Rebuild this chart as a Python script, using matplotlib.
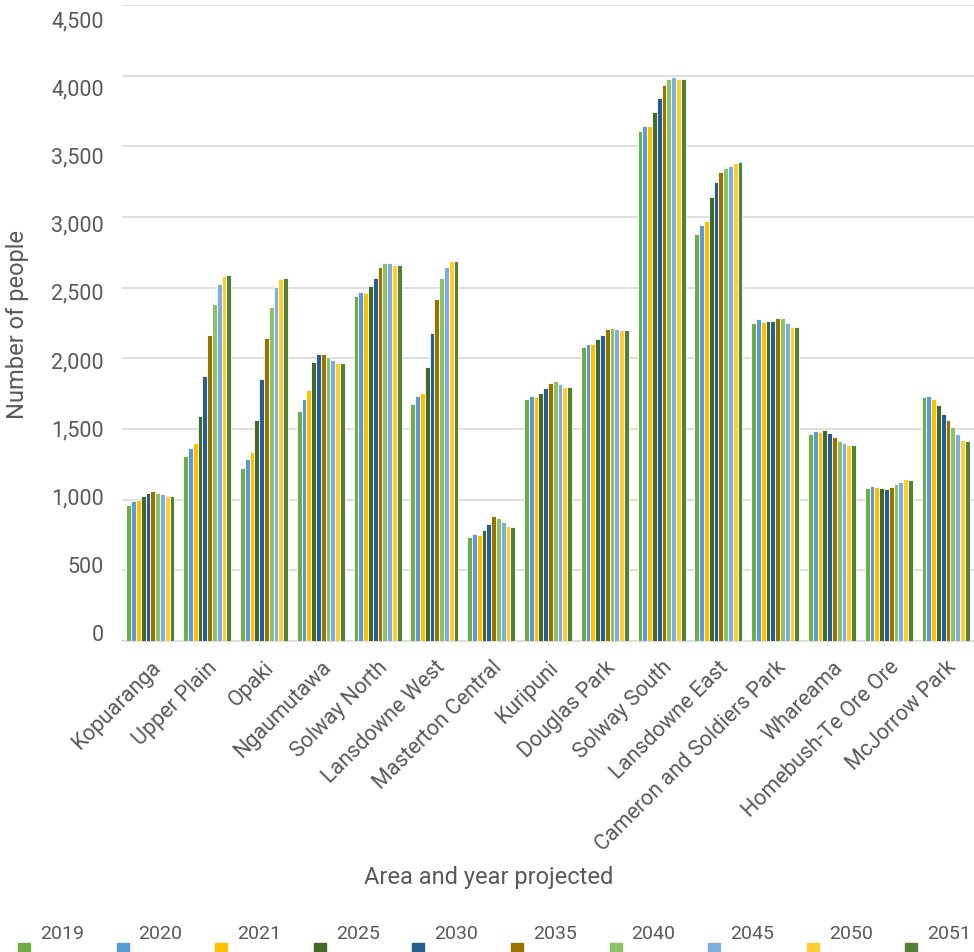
import matplotlib.pyplot as plt
import numpy as np
from matplotlib.patches import Rectangle
from matplotlib.transforms import ScaledTranslation

areas = [
    "Kopuaranga", "Upper Plain", "Opaki", "Ngaumutawa", "Solway North",
    "Lansdowne West", "Masterton Central", "Kuripuni", "Douglas Park",
    "Solway South", "Lansdowne East", "Cameron and Soldiers Park",
    "Whareama", "Homebush-Te Ore Ore", "McJorrow Park",
]
years = ["2019", "2020", "2021", "2025", "2030", "2035", "2040", "2045", "2050", "2051"]

# population per area, one list per projection year
pop_2019 = [964, 1312, 1224, 1624, 2439, 1678, 733, 1709, 2082, 3606, 2879, 2252, 1461, 1085, 1723]
pop_2020 = [990, 1366, 1290, 1714, 2470, 1735, 757, 1732, 2104, 3646, 2946, 2276, 1484, 1099, 1730]
pop_2021 = [995, 1402, 1335, 1773, 2463, 1758, 752, 1728, 2099, 3646, 2973, 2260, 1475, 1087, 1709]
pop_2025 = [1028, 1590, 1565, 1973, 2515, 1938, 787, 1756, 2139, 3744, 3141, 2265, 1491, 1085, 1668]
pop_2030 = [1047, 1877, 1853, 2033, 2569, 2181, 830, 1787, 2167, 3841, 3251, 2265, 1470, 1076, 1607]
pop_2035 = [1059, 2165, 2141, 2033, 2649, 2418, 881, 1827, 2207, 3934, 3322, 2289, 1441, 1087, 1565]
pop_2040 = [1044, 2385, 2361, 2011, 2673, 2567, 872, 1836, 2217, 3974, 3344, 2283, 1413, 1108, 1512]
pop_2045 = [1037, 2524, 2503, 1985, 2673, 2645, 842, 1817, 2210, 3993, 3360, 2252, 1399, 1127, 1463]
pop_2050 = [1026, 2583, 2562, 1964, 2661, 2687, 810, 1798, 2198, 3977, 3381, 2223, 1387, 1144, 1420]
pop_2051 = [1024, 2593, 2567, 1964, 2661, 2690, 806, 1796, 2198, 3977, 3387, 2223, 1385, 1141, 1416]

series = [pop_2019, pop_2020, pop_2021, pop_2025, pop_2030,
          pop_2035, pop_2040, pop_2045, pop_2050, pop_2051]
colors = ["#70AD47", "#5B9BD5", "#FFC000", "#43682B", "#255E91",
          "#997300", "#8CC168", "#7CAFDD", "#FFCD33", "#548235"]
y_ticks = list(range(0, 4501, 500))

text_grey = "#595959"
plt.rcParams["font.family"] = ["Roboto", "DejaVu Sans"]

fig = plt.figure(figsize=(9.74, 9.53), dpi=100)
ax = fig.add_axes([0.1253, 0.3265, 0.8747, 0.667])

x = np.arange(len(areas))
slot = 0.0845
for i, (vals, col) in enumerate(zip(series, colors)):
    offset = (i - (len(series) - 1) / 2) * slot
    ax.bar(x + offset, vals, width=slot, color=col, edgecolor="white",
           linewidth=0.6, zorder=3)

ax.set_xlim(-0.5, len(areas) - 0.5)
ax.set_ylim(0, 4500)
ax.set_yticks(y_ticks)
ax.set_yticklabels([f"{v:,}" for v in y_ticks])
ax.yaxis.grid(True, color="#D9D9D9", linewidth=1.2, zorder=0)
ax.set_axisbelow(True)

for side in ["top", "right", "left"]:
    ax.spines[side].set_visible(False)
ax.spines["bottom"].set_color("#D9D9D9")
ax.spines["bottom"].set_linewidth(1.2)

ax.tick_params(axis="both", length=0, colors=text_grey, labelsize=15.5)
ax.tick_params(axis="y", pad=13)
ax.set_xticks(x)
ax.set_xticklabels(areas, rotation=45, ha="right", rotation_mode="anchor")
ax.tick_params(axis="x", pad=11)

# y labels sit on a slightly tighter spacing than the gridlines
for lab, v in zip(ax.get_yticklabels(), y_ticks):
    dy = (9 - 22 * v / 4500) / 100
    lab.set_transform(lab.get_transform() + ScaledTranslation(0, dy, fig.dpi_scale_trans))

ax.set_ylabel("Number of people", color=text_grey, fontsize=17, labelpad=16)
fig.text(0.502, 0.0787, "Area and year projected", color=text_grey,
         fontsize=17, ha="center", va="center")

# legend row along the bottom edge
for i, (yr, col) in enumerate(zip(years, colors)):
    mx = 18 + i * 98.6
    fig.patches.append(Rectangle((mx / 974, 0.0), 12 / 974, 9 / 953,
                                 transform=fig.transFigure, color=col))
    fig.text((mx + 44) / 974, 1 - 934 / 953, yr, color=text_grey,
             fontsize=14, ha="center", va="center")

fig.savefig("out.png", dpi=100, facecolor="white")
